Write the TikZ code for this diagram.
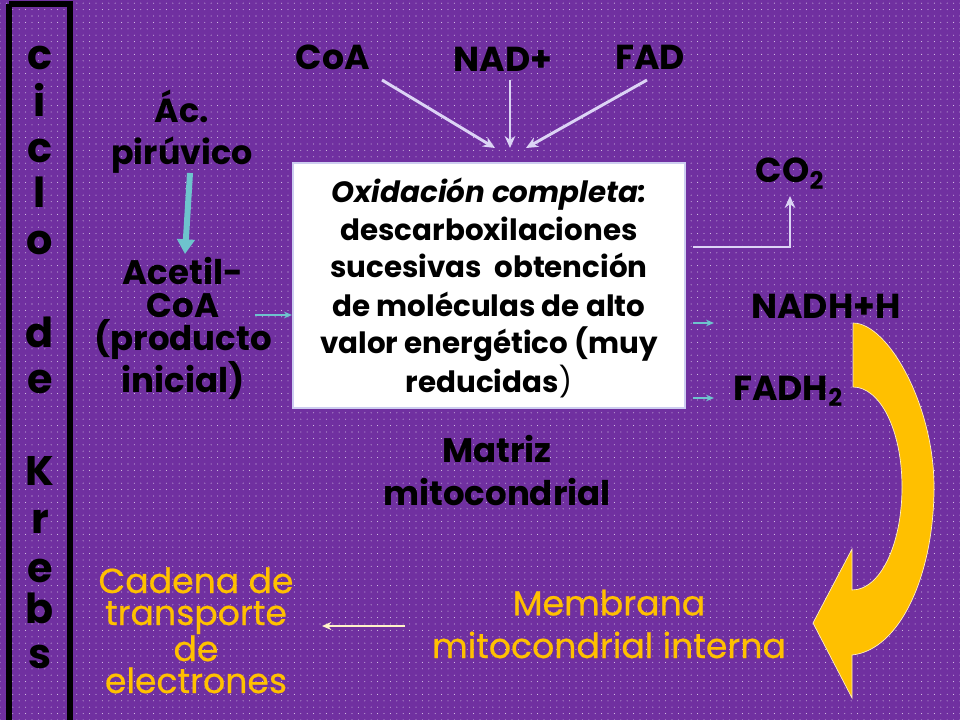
\documentclass[tikz,border=0pt]{standalone}
\usepackage{fontspec}
\setmainfont{Poppins}
\newfontfamily\yfont{Poppins}[FakeBold=0.6]
\usetikzlibrary{arrows.meta,patterns.meta}
\definecolor{bgpurple}{HTML}{7030A0}
\definecolor{gold}{HTML}{FFC000}
\definecolor{tealc}{RGB}{110,195,205}
\definecolor{lav}{RGB}{220,212,245}
\definecolor{pale}{RGB}{255,242,200}
\definecolor{boxline}{RGB}{205,205,240}
\begin{document}
\begin{tikzpicture}[x=0.75pt,y=-0.75pt,
  blk/.style={font=\bfseries\fontsize{#1}{#1}\selectfont, text=black, align=center, inner sep=0pt, anchor=base},
  blk/.default=22,
  yel/.style={text=gold, align=center, inner sep=0pt, anchor=base},
  letter/.style={font=\bfseries\fontsize{31}{31}\selectfont, text=black, inner sep=0pt, anchor=base},
  lavarrow/.style={draw=lav, line width=2.2pt, -{Stealth[length=9pt,width=8pt]}},
  tealsmall/.style={draw=tealc, line width=1.4pt, -{Stealth[length=6pt,width=5pt]}},
]
\useasboundingbox (0,0) rectangle (960,720);
\fill[bgpurple] (0,0) rectangle (960,720);
\fill[pattern={Dots[radius=0.4pt,distance=4.8pt]}, pattern color=white!75!bgpurple] (0,0) rectangle (960,720);

% Left frame
\draw[black, line width=3.8pt] (9,4) -- (70,4) -- (70,725) (9,725) -- (9,4);
\foreach \ch/\yy [count=\i] in {c/70, i/117, c/163, l/208, o/255, d/347, e/393, K/485, r/533, e/582, b/623, s/668}
  \node[letter] (k\i) at (40,\yy) {\ch};

% Upper labels (anchor base = last line baseline)
\node[blk, font=\bfseries\fontsize{25}{32}\selectfont] (pir) at (182,165) {Ác.\\pirúvico};
\node[blk, font=\bfseries\fontsize{25.5}{24.8}\selectfont] (acet) at (183,392) {Acetil-\\CoA\\(producto\\inicial)};
\coordinate (pirS) at (190,173);
\coordinate (acetN) at (185,254);
\draw[tealc, line width=4.5pt, -{Triangle[length=11pt,width=13pt]}] (pirS) -- (acetN);

% central box
\node[draw=boxline, line width=1.5pt, fill=white, minimum width=294pt, minimum height=183.75pt, inner sep=0pt] (box) at (489,285.5) {};
\node[blk, font=\bfseries\fontsize{22}{28.5}\selectfont] (boxtext) at (489,392)
  {{\itshape Oxidación completa:}\\descarboxilaciones\\sucesivas\ \ obtención\\de moléculas de alto\\valor energético (muy\\reducidas{\mdseries)}};

\coordinate (acetE) at (255,315);
\draw[tealsmall] (acetE) -- (box.west |- acetE);

% top inputs
\node[blk=26] (coa) at (333,70) {CoA};
\node[blk=26] (nad) at (503,72) {NAD+};
\node[blk=26] (fad) at (650,70) {FAD};
\coordinate (coaS) at (382,80);
\coordinate (nadS) at (510,80);
\coordinate (fadS) at (647,80);
\coordinate (in1) at (495,148);
\coordinate (in2) at (510,148);
\coordinate (in3) at (526,148);
\draw[lavarrow] (coaS) -- (in1);
\draw[lavarrow] (nadS) -- (in2);
\draw[lavarrow] (fadS) -- (in3);

% outputs
\node[blk=26] (co2) at (790,183) {CO\textsubscript{2}};
\coordinate (co2S) at (790,196);
\coordinate (o1) at (693,247);
\draw[lavarrow] (o1) -| (co2S);
\node[blk=26] (nadh) at (826,318) {NADH+H};
\node[blk=26, anchor=base west] (fadh) at (733,400) {FADH\textsubscript{2}};
\coordinate (o2) at (693,323);
\coordinate (o2e) at (714,323);
\coordinate (o3) at (693,398);
\coordinate (o3e) at (714,398);
\draw[tealsmall] (o2) -- (o2e);
\draw[tealsmall] (o3) -- (o3e);

% Matriz
\node[blk, font=\bfseries\fontsize{25.5}{32}\selectfont] (matriz) at (497,505) {Matriz\\mitocondrial};

% Yellow curved arrow
\fill[gold, draw=pale, line width=0.5pt] (853,323)
  .. controls (888,323) and (934,405) .. (934,487)
  .. controls (934,575) and (900,650) .. (852,655)
  -- (852,698) -- (813,623) -- (852,549) -- (852,590)
  .. controls (880,590) and (902,545) .. (902,487)
  .. controls (902,430) and (880,387) .. (853,387) -- cycle;

% lower labels
\node[yel, font=\yfont\fontsize{26}{32}\selectfont] (memb) at (609,658) {Membrana\\mitocondrial interna};
\node[yel, font=\yfont\fontsize{26}{24}\selectfont] (cadena) at (196,693) {Cadena de\\transporte\\de\\electrones};
\coordinate (mS) at (405,626);
\coordinate (cE) at (322,626);
\draw[pale, line width=2pt, -{Stealth[length=7pt,width=6pt]}] (mS) -- (cE);
\end{tikzpicture}
\end{document}
